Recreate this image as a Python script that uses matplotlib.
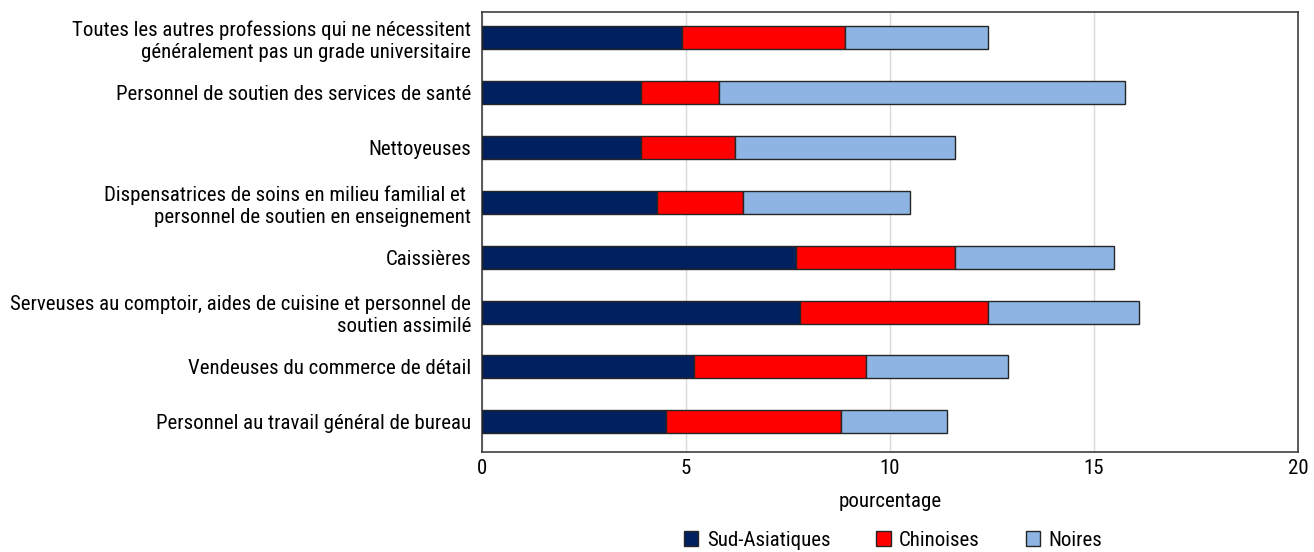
import matplotlib
matplotlib.use("Agg")
import matplotlib.pyplot as plt
from matplotlib import font_manager

categories = [
    "Toutes les autres professions qui ne nécessitent\ngénéralement pas un grade universitaire",
    "Personnel de soutien des services de santé",
    "Nettoyeuses",
    "Dispensatrices de soins en milieu familial et \npersonnel de soutien en enseignement",
    "Caissières",
    "Serveuses au comptoir, aides de cuisine et personnel de\nsoutien assimilé",
    "Vendeuses du commerce de détail",
    "Personnel au travail général de bureau",
]
sud_asiatiques = [4.9, 3.9, 3.9, 4.3, 7.7, 7.8, 5.2, 4.5]
chinoises = [4.0, 1.9, 2.3, 2.1, 3.9, 4.6, 4.2, 4.3]
noires = [3.5, 9.95, 5.4, 4.1, 3.9, 3.7, 3.5, 2.6]
series_names = ["Sud-Asiatiques", "Chinoises", "Noires"]
colors = ["#002060", "#FF0000", "#8EB4E3"]
xticks = [0, 5, 10, 15, 20]

names = {f.name for f in font_manager.fontManager.ttflist}
fam = "Roboto"
fs = 13.3
for cand in ["Roboto Condensed", "Liberation Sans Narrow", "Open Sans Condensed"]:
    if cand in names:
        fam = cand
        fs = 15
        break
plt.rcParams["font.family"] = [fam, "DejaVu Sans"]

fig = plt.figure(figsize=(13.14, 5.52), dpi=100)
ax = fig.add_axes([482/1314, 1-452/552, (1298-482)/1314, (452-12)/552])

n = len(categories)
ypos = list(range(n - 1, -1, -1))
left = [0] * n
for vals, name, c in zip([sud_asiatiques, chinoises, noires], series_names, colors):
    ax.barh(ypos, vals, left=left, height=0.42, color=c, edgecolor="#262626",
            linewidth=1.0, label=name, zorder=3)
    left = [a + b for a, b in zip(left, vals)]

ax.set_yticks(ypos)
ax.set_yticklabels(categories, fontsize=fs)
ax.set_ylim(-0.55, n - 1 + 0.47)
ax.set_xlim(0, 20)
ax.set_xticks(xticks)
ax.set_xticklabels([str(t) for t in xticks], fontsize=fs)
ax.tick_params(axis="y", length=0, pad=8)
ax.tick_params(axis="x", length=0, pad=5)
ax.grid(axis="x", color="#d9d9d9", linewidth=1, zorder=0)
for s in ax.spines.values():
    s.set_color("#404040")
    s.set_linewidth(1.2)
ax.set_xlabel("pourcentage", fontsize=fs, labelpad=10)

handles, labels = ax.get_legend_handles_labels()
fig.legend(handles, labels, loc="center", bbox_to_anchor=(893/1314, 1-540/552),
           ncol=3, frameon=False, fontsize=fs, handlelength=0.7, handleheight=0.7,
           columnspacing=2.2, handletextpad=0.4)

fig.savefig("out.png", dpi=100)
